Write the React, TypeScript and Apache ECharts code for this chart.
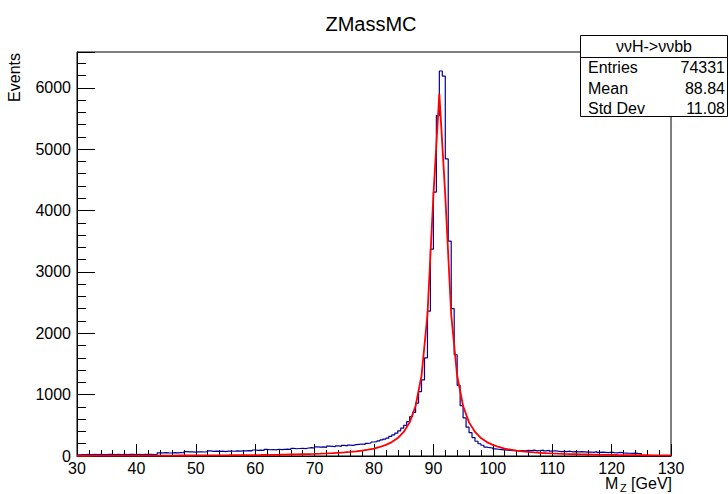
import React, { useEffect, useRef } from "react";
import * as echarts from "echarts";

// ---------------- data ----------------
const TITLE = "ZMassMC";
const X_MIN = 30;
const X_MAX = 130;
const Y_MAX = 6583;
const X_TICK_STEP = 10;
const Y_TICK_STEP = 1000;

// histogram: 200 bins of 0.5 GeV from 30 to 130
const HIST_START = 30;
const HIST_BIN = 0.5;
const HIST_COUNTS = [
  18, 24, 22, 26, 23, 25, 21, 27, 24, 22, // 30.0-34.5
  26, 25, 23, 28, 24, 26, 22, 25, 27, 24, // 35.0-39.5
  26, 23, 28, 25, 27, 24, 26, 52, 50, 54, // 40.0-44.5
  51, 49, 55, 52, 56, 53, 70, 66, 68, 64, // 45.0-49.5
  67, 69, 65, 70, 82, 76, 79, 74, 80, 72, // 50.0-54.5
  78, 81, 77, 83, 79, 84, 82, 86, 84, 98, // 55.0-59.5
  92, 95, 90, 108, 102, 106, 100, 110, 104, 108, // 60.0-64.5
  112, 106, 124, 118, 122, 126, 120, 130, 136, 128, // 65.0-69.5
  150, 144, 148, 140, 160, 156, 152, 164, 158, 172, // 70.0-74.5
  166, 178, 174, 184, 190, 196, 188, 205, 212, 228, // 75.0-79.5
  234, 246, 262, 275, 290, 320, 345, 372, 410, 455, // 80.0-84.5
  500, 560, 640, 710, 860, 1050, 1240, 1600, 2360, 3370, // 85.0-89.5
  4300, 5547, 6273, 6190, 4840, 3500, 2400, 1650, 1150, 820, // 90.0-94.5
  620, 470, 380, 300, 240, 200, 175, 145, 135, 130, // 95.0-99.5
  115, 110, 105, 100, 95, 90, 86, 88, 82, 90, // 100.0-104.5
  85, 92, 87, 95, 84, 90, 96, 84, 92, 80, // 105.0-109.5
  86, 78, 72, 75, 70, 78, 68, 72, 66, 70, // 110.0-114.5
  68, 62, 65, 60, 70, 58, 62, 60, 56, 64, // 115.0-119.5
  55, 52, 58, 50, 48, 45, 44, 46, 42, 40, // 120.0-124.5
  0, 0, 0, 0, 0, 0, 0, 0, 0, 0, // 125.0-129.5
];

// fit curve sampled every 1 GeV from 30 to 130
const FIT_START = 30;
const FIT_STEP = 1;
const FIT_VALUES = [
  4.1, 4.2, 4.3, 4.5, 4.6, 4.8, 5.0, 5.2, 5.4, 5.6, // 30-39
  5.8, 6.0, 6.3, 6.5, 6.8, 7.1, 7.45, 7.8, 8.2, 8.55, // 40-49
  9.0, 9.4, 9.9, 10.4, 11.0, 11.6, 12.3, 13.0, 13.8, 14.7, // 50-59
  15.7, 16.7, 17.9, 19.2, 20.6, 22.3, 24.1, 26.1, 28.4, 31, // 60-69
  34, 37.5, 41.5, 46, 52, 58, 66, 76, 88, 103, // 70-79
  122, 147, 181, 227, 293, 392, 548, 814, 1307, 2302, // 80-89
  4243, 5900, 4243, 2302, 1307, 814, 548, 392, 293, 227, // 90-99
  181, 147, 122, 103, 88, 76, 66, 58, 52, 46, // 100-109
  41.5, 37.5, 34, 31, 28.4, 26.1, 24.1, 22.3, 20.6, 19.2, // 110-119
  17.9, 16.7, 15.7, 14.7, 13.8, 13.0, 12.3, 11.6, 11.0, 10.4, // 120-129
  9.9, // 130
];

const STATS_TITLE = "ννH->ννbb";
const STATS_LABELS = ["Entries", "Mean", "Std Dev"];
const STATS_VALUES = ["74331", "88.84", "11.08"];
const Y_TITLE = "Events";
const X_TITLE_MAIN = "M";
const X_TITLE_SUB = "Z";
const X_TITLE_UNIT = "[GeV]";

const FONT = "Liberation Sans, Arial, Helvetica, sans-serif";

export default function App() {
  const ref = useRef<HTMLDivElement>(null);

  useEffect(() => {
    if (!ref.current) return;
    const chart = echarts.init(ref.current, undefined, { renderer: "svg" });

    const histPoints: number[][] = [];
    HIST_COUNTS.forEach((c, i) => {
      const x0 = HIST_START + i * HIST_BIN;
      histPoints.push([x0, c], [x0 + HIST_BIN, c]);
    });
    const fitPoints = FIT_VALUES.map((v, i) => [FIT_START + i * FIT_STEP, v]);

    const textStyle = (size: number) => ({
      fontFamily: FONT,
      fontSize: size,
      lineHeight: size,
      fill: "#000",
    });

    const statsRows: any[] = [];
    STATS_LABELS.forEach((lab, i) => {
      const y = 67.5 + i * 20.5;
      statsRows.push({
        type: "text",
        x: 588,
        y,
        z: 101,
        style: { ...textStyle(16), text: lab, align: "left", verticalAlign: "middle", textAlign: "left", textVerticalAlign: "middle" },
      });
      statsRows.push({
        type: "text",
        x: 725,
        y,
        z: 101,
        style: { ...textStyle(16), text: STATS_VALUES[i], align: "right", verticalAlign: "middle", textAlign: "right", textVerticalAlign: "middle" },
      });
    });

    const option: any = {
      animation: false,
      backgroundColor: "#fff",
      title: {
        text: TITLE,
        left: 366,
        top: 9,
        textAlign: "center",
        textStyle: { fontFamily: FONT, fontSize: 20, fontWeight: "normal", color: "#000" },
      },
      grid: {
        left: 77,
        right: 57,
        top: 52,
        bottom: 38,
        show: true,
        borderColor: "#000",
        borderWidth: 1,
        backgroundColor: "#fff",
      },
      xAxis: {
        type: "value",
        min: X_MIN,
        max: X_MAX,
        interval: X_TICK_STEP,
        axisLine: { show: true, lineStyle: { color: "#000", width: 1 } },
        axisTick: { show: true, inside: true, length: 12, lineStyle: { color: "#000" } },
        minorTick: { show: true, splitNumber: 5, length: 6, lineStyle: { color: "#000" } },
        splitLine: { show: false },
        minorSplitLine: { show: false },
        axisLabel: { color: "#000", fontFamily: FONT, fontSize: 16, lineHeight: 16, margin: 4 },
      },
      yAxis: [
        {
          type: "value",
          position: "left",
          min: 0,
          max: Y_MAX,
          interval: Y_TICK_STEP,
          axisLine: { show: true, lineStyle: { color: "#000", width: 1 } },
          axisTick: { show: true, inside: true, length: 18, lineStyle: { color: "#000" } },
          splitLine: { show: false },
          axisLabel: {
            color: "#000",
            fontFamily: FONT,
            fontSize: 16,
            margin: 6,
            formatter: (v: number) => (v % Y_TICK_STEP === 0 ? String(v) : ""),
          },
        },
        {
          type: "value",
          position: "left",
          offset: 0,
          min: 0,
          max: Y_MAX,
          interval: Y_TICK_STEP / 5,
          axisLine: { show: false },
          axisTick: { show: true, inside: true, length: 9, lineStyle: { color: "#000" } },
          splitLine: { show: false },
          axisLabel: { show: false },
        },
      ],
      series: [
        {
          type: "line",
          name: "hist",
          data: histPoints,
          showSymbol: false,
          symbol: "none",
          lineStyle: { color: "#000099", width: 1.2 },
          clip: true,
          z: 3,
        },
        {
          type: "line",
          name: "fit",
          data: fitPoints,
          showSymbol: false,
          symbol: "none",
          lineStyle: { color: "#ff0000", width: 1.8 },
          clip: true,
          z: 4,
        },
      ],
      graphic: [
        {
          type: "text",
          x: 14,
          y: 53,
          rotation: Math.PI / 2,
          style: { ...textStyle(16), text: Y_TITLE, align: "right", verticalAlign: "middle", textAlign: "right", textVerticalAlign: "middle" },
        },
        {
          type: "text",
          x: 605,
          y: 483.5,
          style: { ...textStyle(16), text: X_TITLE_MAIN, align: "left", verticalAlign: "middle", textAlign: "left", textVerticalAlign: "middle" },
        },
        {
          type: "text",
          x: 620,
          y: 487.5,
          style: { ...textStyle(11), text: X_TITLE_SUB, align: "left", verticalAlign: "middle", textAlign: "left", textVerticalAlign: "middle" },
        },
        {
          type: "text",
          x: 672,
          y: 483.5,
          style: { ...textStyle(16), text: X_TITLE_UNIT, align: "right", verticalAlign: "middle", textAlign: "right", textVerticalAlign: "middle" },
        },
        {
          type: "rect",
          z: 100,
          shape: { x: 580.5, y: 35.5, width: 147, height: 81 },
          style: { fill: "#fff", stroke: "#000", lineWidth: 1 },
        },
        {
          type: "line",
          z: 101,
          shape: { x1: 580.5, y1: 57.5, x2: 728, y2: 57.5 },
          style: { stroke: "#000", lineWidth: 1 },
        },
        {
          type: "text",
          x: 654,
          y: 46.5,
          z: 101,
          style: { ...textStyle(16), text: STATS_TITLE, align: "center", verticalAlign: "middle", textAlign: "center", textVerticalAlign: "middle" },
        },
        ...statsRows,
      ],
    };

    chart.setOption(option);
    return () => chart.dispose();
  }, []);

  return (
    <div
      ref={ref}
      style={{ position: "absolute", left: 0, top: 0, width: 728, height: 494, background: "#fff" }}
    />
  );
}
